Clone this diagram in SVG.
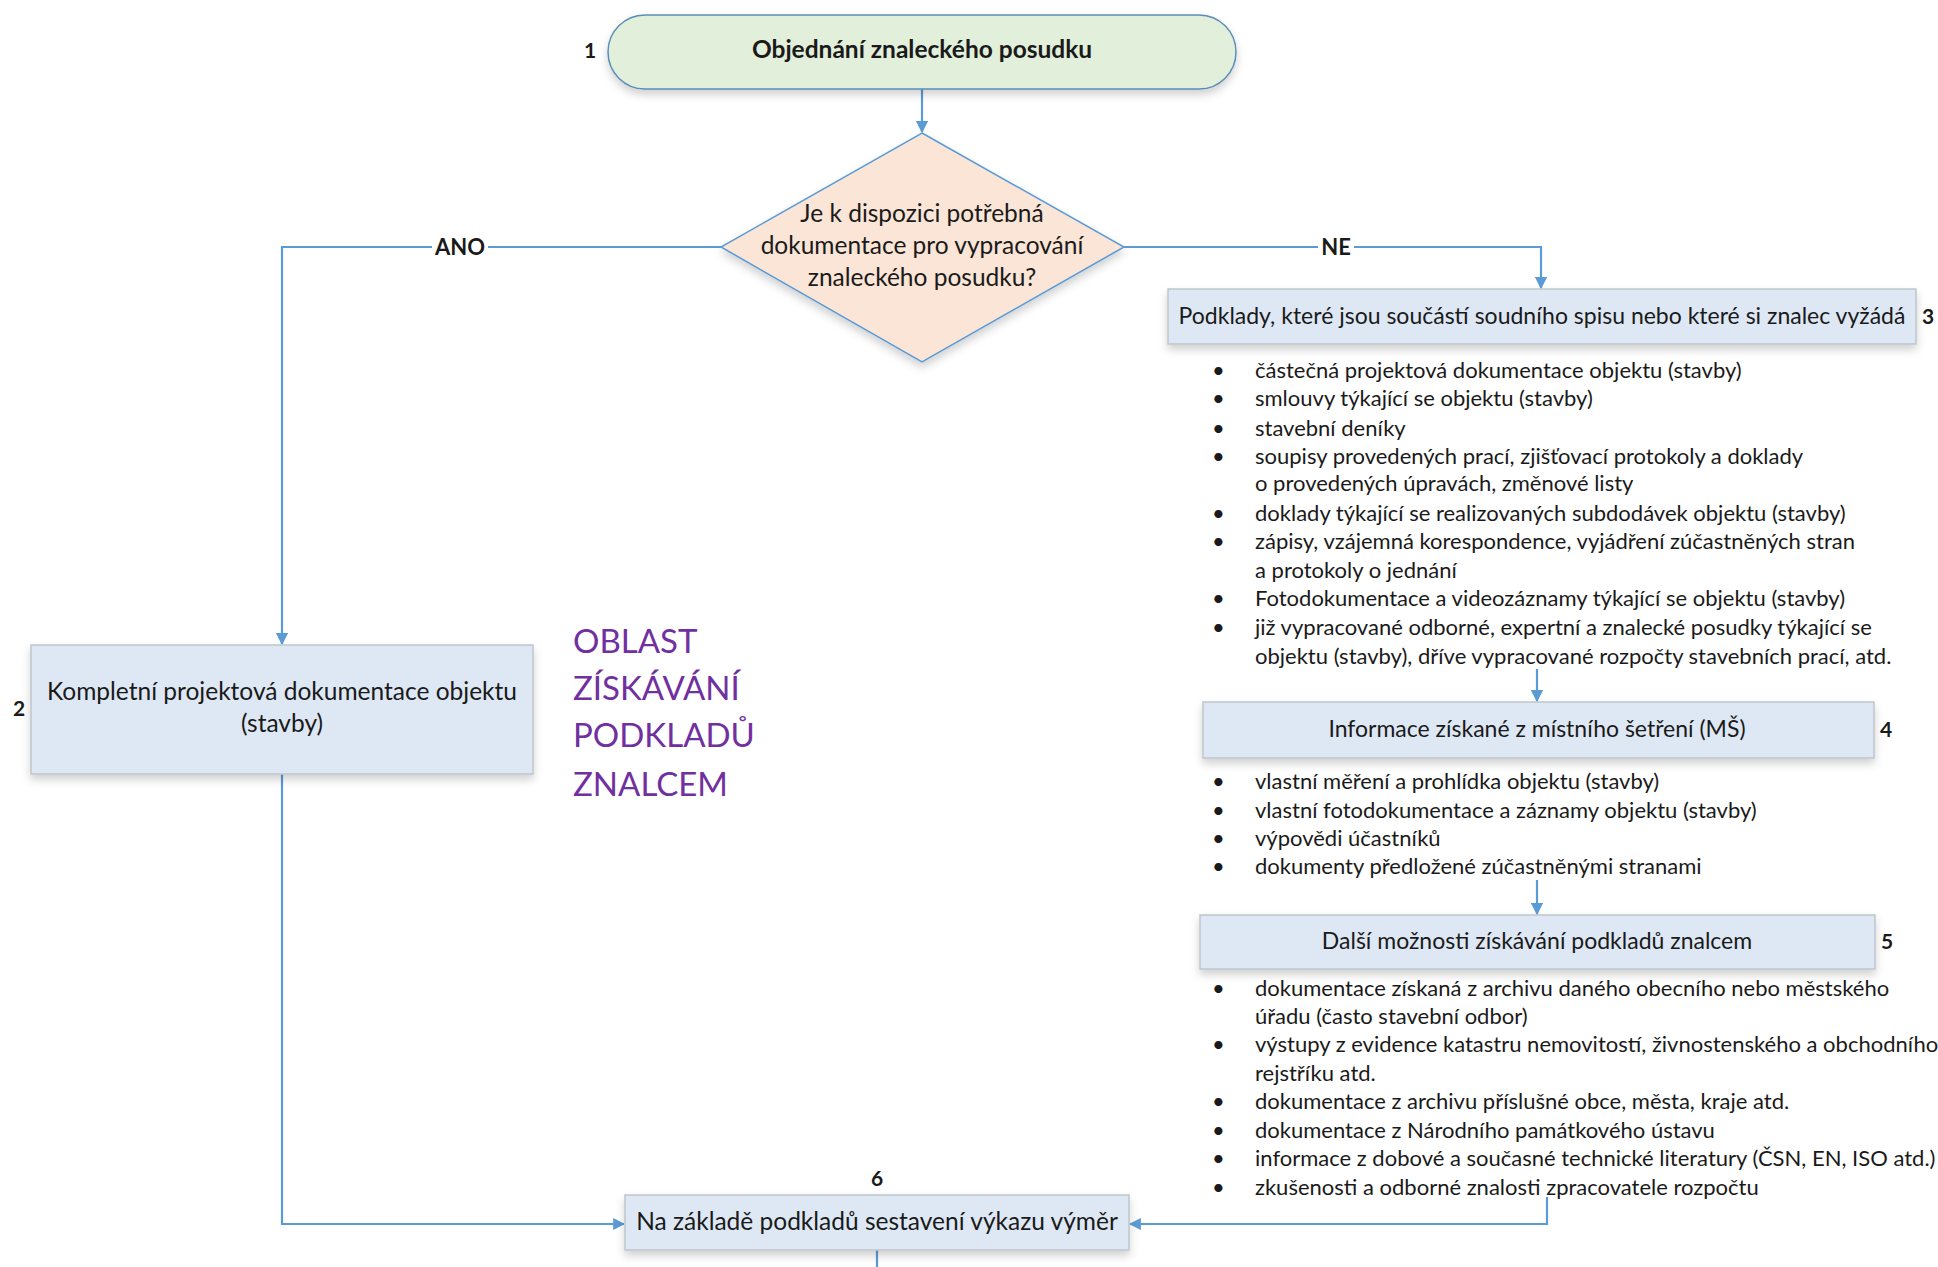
<svg xmlns="http://www.w3.org/2000/svg" width="1938" height="1267" viewBox="0 0 1938 1267">
<defs>
<style>
text{font-family:Lato,"Open Sans","Liberation Sans",sans-serif;fill:#1a1a1a}
.box{fill:#DEE8F4;stroke:#BFC5CC;stroke-width:1.5}
.c{text-anchor:middle}
.b{font-weight:bold}
.conn{fill:none;stroke:#5B9BD5;stroke-width:2.2}
.li{font-size:22px}
.num{font-size:21px;font-weight:bold}
.hd{font-size:23px}
.purple{fill:#7030A0;font-size:33px}
</style>
<filter id="sh" x="-10%" y="-20%" width="120%" height="150%">
<feDropShadow dx="0" dy="5" stdDeviation="4" flood-color="#000" flood-opacity="0.18"/>
</filter>
<marker id="ar" viewBox="0 0 10 10" refX="9" refY="5" markerWidth="5.5" markerHeight="5.5" orient="auto" markerUnits="strokeWidth">
<path d="M0,0 L10,5 L0,10 z" fill="#5B9BD5"/>
</marker>
</defs>
<rect width="1938" height="1267" fill="#fff"/>

<g id="connectors">
<path class="conn" d="M922,89 V132" marker-end="url(#ar)"/>
<path class="conn" d="M721,247 H282 V644" marker-end="url(#ar)"/>
<path class="conn" d="M1124,247 H1541 V288" marker-end="url(#ar)"/>
<path class="conn" d="M1537,669 V701" marker-end="url(#ar)"/>
<path class="conn" d="M1537,880 V914" marker-end="url(#ar)"/>
<path class="conn" d="M282,774 V1224 H624" marker-end="url(#ar)"/>
<path class="conn" d="M1547,1197 V1224 H1130" marker-end="url(#ar)"/>
<path class="conn" d="M877,1250 V1267"/>
<rect x="432" y="236" width="56" height="22" fill="#fff"/>
<text x="460" y="255" class="c b" font-size="22">ANO</text>
<rect x="1318" y="236" width="36" height="22" fill="#fff"/>
<text x="1336" y="255" class="c b" font-size="22">NE</text>
</g>

<g id="n1">
<rect x="608" y="15" width="628" height="74" rx="37" fill="#E2EFDA" stroke="#5B8DB8" stroke-width="1.5" filter="url(#sh)"/>
<text x="922" y="58" class="c b" font-size="24.5">Objednání znaleckého posudku</text>
<text x="590" y="58" class="num c">1</text>
</g>

<g id="decision">
<polygon points="922,133 1124,247 922,362 721,247" fill="#FBE5D6" stroke="#5B9BD5" stroke-width="1.5" filter="url(#sh)"/>
<text x="922" y="222" class="c" font-size="24.5">Je k dispozici potřebná</text>
<text x="922" y="254" class="c" font-size="24.5">dokumentace pro vypracování</text>
<text x="922" y="286" class="c" font-size="24.5">znaleckého posudku?</text>
</g>

<g id="n2">
<rect x="31" y="645" width="502" height="129" class="box" filter="url(#sh)"/>
<text x="282" y="700" class="c" font-size="24.5">Kompletní projektová dokumentace objektu</text>
<text x="282" y="732" class="c" font-size="24.5">(stavby)</text>
<text x="19" y="716" class="num c">2</text>
</g>

<g id="label-oblast">
<text x="573" y="653" class="purple">OBLAST</text>
<text x="573" y="700" class="purple">ZÍSKÁVÁNÍ</text>
<text x="573" y="747" class="purple">PODKLADŮ</text>
<text x="573" y="796" class="purple">ZNALCEM</text>
</g>

<g id="n3">
<rect x="1168" y="289" width="748" height="55" class="box" filter="url(#sh)"/>
<text x="1542" y="324" class="c hd">Podklady, které jsou součástí soudního spisu nebo které si znalec vyžádá</text>
<text x="1928" y="324" class="num c">3</text>
</g>
<g id="list3" class="li">
<text x="1212" y="378">•</text><text x="1255" y="378">částečná projektová dokumentace objektu (stavby)</text>
<text x="1212" y="406">•</text><text x="1255" y="406">smlouvy týkající se objektu (stavby)</text>
<text x="1212" y="436">•</text><text x="1255" y="436">stavební deníky</text>
<text x="1212" y="464">•</text><text x="1255" y="464">soupisy provedených prací, zjišťovací protokoly a doklady</text>
<text x="1255" y="491">o provedených úpravách, změnové listy</text>
<text x="1212" y="521">•</text><text x="1255" y="521">doklady týkající se realizovaných subdodávek objektu (stavby)</text>
<text x="1212" y="549">•</text><text x="1255" y="549">zápisy, vzájemná korespondence, vyjádření zúčastněných stran</text>
<text x="1255" y="578">a protokoly o jednání</text>
<text x="1212" y="606">•</text><text x="1255" y="606">Fotodokumentace a videozáznamy týkající se objektu (stavby)</text>
<text x="1212" y="635">•</text><text x="1255" y="635">již vypracované odborné, expertní a znalecké posudky týkající se</text>
<text x="1255" y="664">objektu (stavby), dříve vypracované rozpočty stavebních prací, atd.</text>
</g>

<g id="n4">
<rect x="1203" y="702" width="671" height="56" class="box" filter="url(#sh)"/>
<text x="1537" y="737" class="c hd">Informace získané z místního šetření (MŠ)</text>
<text x="1886" y="737" class="num c">4</text>
</g>
<g id="list4" class="li">
<text x="1212" y="789">•</text><text x="1255" y="789">vlastní měření a prohlídka objektu (stavby)</text>
<text x="1212" y="818">•</text><text x="1255" y="818">vlastní fotodokumentace a záznamy objektu (stavby)</text>
<text x="1212" y="846">•</text><text x="1255" y="846">výpovědi účastníků</text>
<text x="1212" y="874">•</text><text x="1255" y="874">dokumenty předložené zúčastněnými stranami</text>
</g>

<g id="n5">
<rect x="1200" y="915" width="675" height="54" class="box" filter="url(#sh)"/>
<text x="1537" y="949" class="c hd">Další možnosti získávání podkladů znalcem</text>
<text x="1887" y="949" class="num c">5</text>
</g>
<g id="list5" class="li">
<text x="1212" y="996">•</text><text x="1255" y="996">dokumentace získaná z archivu daného obecního nebo městského</text>
<text x="1255" y="1024">úřadu (často stavební odbor)</text>
<text x="1212" y="1052">•</text><text x="1255" y="1052">výstupy z evidence katastru nemovitostí, živnostenského a obchodního</text>
<text x="1255" y="1081">rejstříku atd.</text>
<text x="1212" y="1109">•</text><text x="1255" y="1109">dokumentace z archivu příslušné obce, města, kraje atd.</text>
<text x="1212" y="1138">•</text><text x="1255" y="1138">dokumentace z Národního památkového ústavu</text>
<text x="1212" y="1166">•</text><text x="1255" y="1166">informace z dobové a současné technické literatury (ČSN, EN, ISO atd.)</text>
<text x="1212" y="1195">•</text><text x="1255" y="1195">zkušenosti a odborné znalosti zpracovatele rozpočtu</text>
</g>

<g id="n6">
<rect x="625" y="1195" width="504" height="55" class="box" filter="url(#sh)"/>
<text x="877" y="1230" class="c" font-size="24.5">Na základě podkladů sestavení výkazu výměr</text>
<text x="877" y="1186" class="num c">6</text>
</g>
</svg>
